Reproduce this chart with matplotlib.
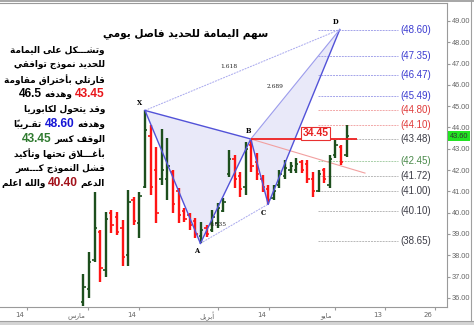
"""
Al Yamamah Steel daily bar chart with a harmonic (crab) pattern
and projection levels, plus the Arabic comment block on the left.
"""
import matplotlib
matplotlib.use("Agg")
import matplotlib.pyplot as plt
from matplotlib.offsetbox import TextArea, HPacker, AnnotationBbox
from matplotlib.patches import Polygon, Rectangle
from matplotlib.transforms import offset_copy
from matplotlib.lines import Line2D

# -------------------
# Data
# -------------------
bar_open = [35.8, 36.4, 37.8, 39.1, 37.3, 40.0, 39.8, 39.3, 38.0, 40.6,
            39.5, 41.2, 43.6, 42.0, 41.6, 41.6, 41.9, 41.0, 40.1, 39.9,
            39.6, 38.9, 39.3, 39.2, 39.5, 40.1, 41.8, 42.5, 41.7, 41.2,
            43.2, 42.4, 41.6, 41.1, 40.7, 41.3, 41.7, 42.0, 42.0, 42.4,
            42.3, 41.6, 41.0, 42.0, 41.3, 42.7, 43.1, 42.7]
bar_high = [37.1, 38.15, 40.97, 39.19, 40.03, 40.13, 40.03, 39.66, 41.07, 40.74,
            40.97, 44.8, 44.1, 43.08, 43.93, 43.5, 42.0, 41.16, 40.22, 39.99,
            39.75, 39.56, 39.42, 40.13, 40.46, 40.69, 42.94, 42.7, 41.9, 43.32,
            43.46, 42.8, 41.77, 41.3, 41.3, 42.0, 42.47, 42.38, 42.57, 42.47,
            42.47, 41.9, 42.0, 42.1, 42.71, 43.41, 43.18, 44.12]
bar_low = [35.6, 36.0, 37.7, 36.75, 36.98, 39.05, 38.95, 37.5, 37.5, 39.42,
           38.81, 41.16, 40.83, 39.52, 41.3, 40.6, 40.0, 39.52, 39.56, 39.19,
           38.8, 38.56, 38.86, 39.1, 39.28, 40.03, 41.68, 41.16, 40.74, 40.83,
           41.9, 41.54, 40.97, 40.4, 40.6, 41.16, 41.6, 41.86, 41.86, 41.86,
           41.4, 40.74, 40.97, 41.4, 41.16, 42.57, 42.24, 42.62]
bar_close = [36.5, 37.7, 39.3, 37.4, 39.7, 39.4, 39.1, 37.9, 40.5, 39.6,
             40.8, 43.9, 41.2, 40.0, 42.0, 42.2, 40.4, 39.9, 39.7, 39.4,
             39.0, 39.2, 39.0, 39.8, 40.2, 40.5, 42.5, 41.6, 41.1, 43.0,
             42.2, 41.8, 41.2, 40.6, 41.0, 41.8, 42.1, 42.2, 42.3, 42.0,
             41.6, 41.0, 41.8, 41.6, 42.5, 43.2, 42.4, 43.6]

# harmonic pattern points (bar index, price)
point_names = ["X", "A", "B", "C", "D"]
point_x = [11, 20.9, 29.9, 33, 45.8]
point_y = [44.80, 38.56, 43.46, 40.40, 48.60]
ratio_labels = ["1.618", "2.689", "0.635"]

# projection levels shown on the right
level_values = [48.60, 47.35, 46.47, 45.49, 44.80, 44.10, 43.48,
                42.45, 41.72, 41.00, 40.10, 38.65]
level_groups = ["blue", "blue", "blue", "blue", "red", "red", "gray",
                "green", "gray", "gray", "gray", "gray"]

last_price = 43.60
box_text = "34.45"

date_ticks = [-10.0, 0.8, 9.9, 24.0, 33.1, 44.9, 53.9, 62.8]
date_labels = ["14", "مارس", "14", "أبريل", "14", "مايو", "13", "26"]
price_ticks = list(range(36, 50))

title = "سهم اليمامة للحديد فاصل يومي"
note_lines = [
    [("وتشـــكل على اليمامة", "k")],
    [("للحديد نموذج توافقي", "k")],
    [("قارتلي بأختراق مقاومة", "k")],
    [("43.45", "#e8161b"), ("وهدفه", "k"), ("46.5", "k")],
    [("وقد يتحول لكابوريا", "k")],
    [("وهدفه", "k"), ("48.60", "#1717d6"), ("تقـريباً", "k")],
    [("الوقف كسر", "k"), ("43.45", "#2f7a2f")],
    [("بأغـــلاق تحتها وتأكيد", "k")],
    [("فشل النموذج كـــسر", "k")],
    [("الدعم", "k"), ("40.40", "#a3121b"), ("والله اعلم", "k")],
]

# -------------------
# Minimal Arabic shaping (matplotlib has no bidi / joining)
# -------------------
_letters = "ءآأؤإئابةتثجحخدذرزسشصضطظعغفقكلمنهوىي"
_nforms = [1, 2, 2, 2, 2, 4, 2, 4, 2, 4, 4, 4, 4, 4, 2, 2, 2, 2, 4, 4,
           4, 4, 4, 4, 4, 4, 4, 4, 4, 4, 4, 4, 4, 2, 2, 4]
FORMS = {}
_code = 0xFE80
for _ch, _n in zip(_letters, _nforms):
    FORMS[_ch] = [chr(_code + k) for k in range(_n)]
    _code += _n
LAM_ALEF = {"آ": 0xFEF5, "أ": 0xFEF7, "إ": 0xFEF9, "ا": 0xFEFB}


def is_mark(c):
    return 0x064B <= ord(c) <= 0x0652


def joins(c):
    return c == "ـ" or (c in FORMS and len(FORMS[c]) > 1)


def shape_ar(text):
    """Join letters into presentation forms and return visual order"""
    if not any(ch in FORMS for ch in text):
        return text
    chars = list(text)
    out = []
    prev_dual = False
    i = 0
    while i < len(chars):
        c = chars[i]
        if is_mark(c):
            out.append(c)
            i += 1
            continue
        j = i + 1
        while j < len(chars) and is_mark(chars[j]):
            j += 1
        nxt = chars[j] if j < len(chars) else None
        if c == "ل" and nxt in LAM_ALEF:
            out.append(chr(LAM_ALEF[nxt] + (1 if prev_dual else 0)))
            prev_dual = False
            i = j + 1
            continue
        if c == "ـ":
            out.append(c)
            prev_dual = True
            i += 1
            continue
        if c not in FORMS:
            out.append(c)
            prev_dual = False
            i += 1
            continue
        f = FORMS[c]
        pj = prev_dual and len(f) > 1
        nj = len(f) == 4 and nxt is not None and joins(nxt)
        if len(f) == 4:
            form = f[3] if (pj and nj) else f[1] if pj else f[2] if nj else f[0]
        elif len(f) == 2:
            form = f[1] if pj else f[0]
        else:
            form = f[0]
        out.append(form)
        prev_dual = len(f) == 4
        i += 1
    clusters = []
    for ch in out:
        if is_mark(ch) and clusters:
            clusters[-1] += ch
        else:
            clusters.append(ch)
    return "".join(reversed(clusters))


# -------------------
# Figure
# -------------------
W, H = 474, 325
fig = plt.figure(figsize=(W / 100, H / 100), dpi=100)
fig.patch.set_facecolor("white")
ax = fig.add_axes([0.0, 0.0554, 0.943, 0.9354])
ax.set_xlim(-14.9, 64.95)
ax.set_ylim(35.573, 49.845)

up_col, down_col = "#1d4f1d", "#ff1414"
idx = list(range(len(bar_open)))
cols = [up_col if c >= o else down_col for o, c in zip(bar_open, bar_close)]

# pattern shading first so bars sit on top
px, py = point_x, point_y
fill_col = "#e9e9f9"
ax.add_patch(Polygon([(px[0], py[0]), (px[1], py[1]), (px[2], py[2])],
                     closed=True, fc=fill_col, ec="none", zorder=1))
ax.add_patch(Polygon([(px[2], py[2]), (px[3], py[3]), (px[4], py[4])],
                     closed=True, fc=fill_col, ec="none", zorder=1))

# levels on the right
grp_line = {"blue": "#a4a4ea", "red": "#f2a8a8", "gray": "#b8b8b8", "green": "#a8cfa8"}
grp_text = {"blue": "#3b3bd0", "red": "#e03a3a", "gray": "#3c3c46", "green": "#4a8a4a"}
for v, g in zip(level_values, level_groups):
    ax.hlines(v, 41.9, 56.2, colors=grp_line[g], lw=0.7, ls=(0, (2, 1)), zorder=1)
    ax.text(56.6, v, "(%.2f)" % v, color=grp_text[g], fontsize=7,
            family="Liberation Sans", ha="left", va="center", zorder=5)

# pink trend line out of B
ax.plot([px[2], 50.3], [py[2], 41.86], color="#f2a0a0", lw=0.8, zorder=2)

# bars
ax.vlines(idx, bar_low, bar_high, colors=cols, lw=1.7, zorder=3)
ax.hlines(bar_open, [i - 0.42 for i in idx], idx, colors=cols, lw=1.2, zorder=3)
ax.hlines(bar_close, idx, [i + 0.42 for i in idx], colors=cols, lw=1.2, zorder=3)

# pattern legs
leg = "#5252d8"
for a, b in [(0, 1), (1, 2), (2, 3), (3, 4), (0, 2)]:
    ax.plot([px[a], px[b]], [py[a], py[b]], color=leg, lw=1.0, zorder=4)
ax.plot([px[2], px[4]], [py[2], py[4]], color="#9c9cec", lw=0.8, zorder=4)
ax.plot([px[0], px[4]], [py[0], py[4]], color="#a8a8ee", lw=0.7, ls=(0, (2, 1)), zorder=2)
ax.plot([px[1], px[3]], [py[1], py[3]], color="#a8a8ee", lw=0.7, ls=(0, (2, 1)), zorder=2)

# ratio labels on the dotted legs
ratio_pos = [((px[0] + px[4]) / 2 - 2.5, (py[0] + py[4]) / 2 + 0.15),
             ((px[2] + px[4]) / 2 - 3.6, (py[2] + py[4]) / 2 - 0.1),
             ((px[1] + px[3]) / 2 - 2.9, (py[1] + py[3]) / 2 - 0.05)]
for t, (x, y) in zip(ratio_labels, ratio_pos):
    ax.text(x, y, t, fontsize=4.3, family="DejaVu Serif", color="#222",
            ha="center", va="center", zorder=6)

# point labels
offs = {"X": (-5, 7), "A": (-4, -8), "B": (-2, 8), "C": (-5, -9), "D": (-4, 8)}
for n, x, y in zip(point_names, px, py):
    ax.annotate(n, (x, y), xytext=offs[n], textcoords="offset pixels",
                fontsize=4.8, family="DejaVu Serif", weight="bold",
                ha="center", va="center", zorder=6)

# red line at B and its value box
ax.hlines(py[2], px[2], 48.9, colors="#ee2020", lw=1.3, zorder=5)
ax.text(41.5, 43.72, box_text, color="#e82020", fontsize=7.5, weight="bold",
        family="Liberation Sans", ha="center", va="center", zorder=6,
        bbox=dict(boxstyle="square,pad=0.12", fc="white", ec="#e83030", lw=0.8))

# -------------------
# Axes styling
# -------------------
ax.spines["left"].set_visible(False)
for s in ["right", "bottom", "top"]:
    ax.spines[s].set_color("#9a9a9a")
    ax.spines[s].set_linewidth(0.8)
ax.yaxis.tick_right()
ax.set_yticks(price_ticks)
ax.set_yticklabels(["%.2f" % v for v in price_ticks])
ax.tick_params(axis="y", length=2, pad=1.5, colors="#9a9a9a", labelcolor="#666",
               labelsize=5.3)
for lbl in ax.get_yticklabels():
    lbl.set_family("Liberation Sans")

ax.set_xticks(date_ticks)
ax.set_xticklabels([])
ax.tick_params(axis="x", length=2.5, colors="#9a9a9a")
lab_tr = offset_copy(ax.get_xaxis_transform(), fig=fig, x=-3, y=-5, units="dots")
for p, t in zip(date_ticks, date_labels):
    ax.text(p, 0, shape_ar(t), transform=lab_tr, ha="right", va="top",
            fontsize=5, color="#666", family="DejaVu Sans")

ax.text(1.006, last_price, "%.2f" % last_price, transform=ax.get_yaxis_transform(),
        ha="left", va="center", fontsize=5.3, color="#333", family="Liberation Sans",
        bbox=dict(boxstyle="square,pad=0.25", fc="#22e422", ec="none"), zorder=7,
        clip_on=False)

# -------------------
# Title and the comment block
# -------------------
fig.text(186 / W, 1 - 34 / H, shape_ar(title), fontsize=7.6, weight="bold",
         family="DejaVu Sans", ha="center", va="center")

for k, segs in enumerate(note_lines):
    kids = []
    for txt, col in reversed(segs):
        if any(ch.isdigit() for ch in txt):
            props = dict(color=col, fontsize=8.6, weight="bold", family="Liberation Sans")
        else:
            props = dict(color=col, fontsize=6.4, weight="bold", family="DejaVu Sans")
            txt = shape_ar(txt)
        kids.append(TextArea(txt, textprops=props))
    row = HPacker(children=kids, align="baseline", pad=0, sep=2)
    y = H - (50 + 14.75 * k)
    ab = AnnotationBbox(row, (105, y), xycoords="figure pixels",
                        box_alignment=(1, 0.5), frameon=False, pad=0)
    fig.add_artist(ab)

# frame bits around the chart
fig.add_artist(Rectangle((0, 1 - 2 / H), 1, 2 / H, transform=fig.transFigure,
                         fc="#a8a8a8", ec="none"))
fig.add_artist(Rectangle((0, 0), 1, 4 / H, transform=fig.transFigure,
                         fc="#d4d4d4", ec="none"))
fig.add_artist(Line2D([0, 1], [4 / H, 4 / H], transform=fig.transFigure,
                      color="#a0a0a0", lw=0.8))
fig.add_artist(Line2D([471 / W, 471 / W], [4 / H, 1], transform=fig.transFigure,
                      color="#a0a0a0", lw=0.8))

fig.savefig("out.png", dpi=100)
